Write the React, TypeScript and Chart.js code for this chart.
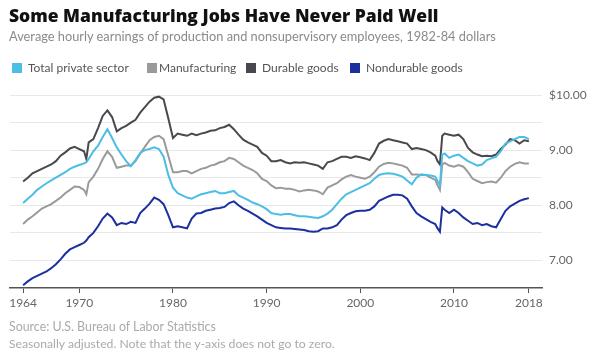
import React, { useEffect, useRef } from "react";
import { Chart, registerables } from "chart.js";

Chart.register(...registerables);

const years = [
  1964, 1964.5, 1965, 1965.5, 1966, 1966.5, 1967, 1967.5, 1968, 1968.5, 1969, 1969.5,
  1970, 1970.5, 1970.75, 1971, 1971.5, 1972, 1972.5, 1973, 1973.5, 1974, 1974.5,
  1975, 1975.5, 1976, 1976.5, 1977, 1977.5, 1978, 1978.5, 1979, 1979.5,
  1980, 1980.5, 1981, 1981.5, 1982, 1982.5, 1983, 1983.5, 1984, 1984.5,
  1985, 1985.5, 1986, 1986.5, 1987, 1987.5, 1988, 1988.5, 1989, 1989.5,
  1990, 1990.5, 1991, 1991.5, 1992, 1992.5, 1993, 1993.5, 1994, 1994.5,
  1995, 1995.5, 1996, 1996.5, 1997, 1997.5, 1998, 1998.5, 1999, 1999.5,
  2000, 2000.5, 2001, 2001.5, 2002, 2002.5, 2003, 2003.5, 2004, 2004.5,
  2005, 2005.5, 2006, 2006.5, 2007, 2007.5, 2008, 2008.25, 2008.5, 2008.75,
  2009, 2009.5, 2010, 2010.5, 2011, 2011.5, 2012, 2012.5, 2013, 2013.5,
  2014, 2014.5, 2015, 2015.5, 2016, 2016.5, 2017, 2017.5, 2018,
];

const totalPrivate = [
  8.04, 8.12, 8.19, 8.28, 8.34, 8.4, 8.45, 8.5, 8.55, 8.6, 8.66, 8.7,
  8.73, 8.76, 8.78, 8.84, 8.98, 9.08, 9.24, 9.38, 9.22, 9.05, 8.92,
  8.8, 8.71, 8.82, 8.95, 9.0, 9.02, 9.05, 9.02, 8.88, 8.55,
  8.32, 8.22, 8.18, 8.14, 8.12, 8.16, 8.2, 8.22, 8.24, 8.26,
  8.22, 8.22, 8.24, 8.26, 8.18, 8.14, 8.1, 8.05, 8.02, 7.98,
  7.93, 7.86, 7.84, 7.83, 7.84, 7.84, 7.82, 7.8, 7.8, 7.79,
  7.78, 7.77, 7.8, 7.85, 7.92, 8.02, 8.12, 8.2, 8.24, 8.28,
  8.32, 8.36, 8.4, 8.48, 8.55, 8.57, 8.58, 8.57, 8.55, 8.52,
  8.45, 8.38, 8.5, 8.56, 8.55, 8.54, 8.52, 8.44, 8.36, 8.92,
  8.94, 8.86, 8.9, 8.92, 8.86, 8.8, 8.76, 8.72, 8.74, 8.82,
  8.85, 8.88, 8.98, 9.12, 9.16, 9.2, 9.24, 9.24, 9.2,
];

const manufacturing = [
  7.66, 7.74, 7.8, 7.87, 7.94, 7.98, 8.02, 8.08, 8.14, 8.22, 8.28, 8.34,
  8.33, 8.28, 8.2, 8.42, 8.52, 8.66, 8.84, 8.98, 8.88, 8.68, 8.7,
  8.72, 8.72, 8.8, 8.94, 9.06, 9.18, 9.24, 9.26, 9.2, 8.9,
  8.6, 8.6, 8.62, 8.62, 8.58, 8.62, 8.66, 8.68, 8.72, 8.74,
  8.78, 8.8, 8.86, 8.84, 8.78, 8.72, 8.68, 8.64, 8.58, 8.48,
  8.44, 8.36, 8.31, 8.32, 8.3, 8.3, 8.28, 8.25, 8.27, 8.28,
  8.27, 8.25, 8.2, 8.32, 8.36, 8.4, 8.47, 8.52, 8.55, 8.52,
  8.5, 8.48, 8.52, 8.6, 8.7, 8.75, 8.77, 8.76, 8.74, 8.72,
  8.68, 8.56, 8.56, 8.55, 8.55, 8.5, 8.46, 8.36, 8.28, 8.74,
  8.77, 8.72, 8.7, 8.73, 8.7, 8.6, 8.48, 8.44, 8.4, 8.42,
  8.43, 8.41, 8.5, 8.62, 8.7, 8.75, 8.78, 8.76, 8.76,
];

const durableGoods = [
  8.43, 8.5, 8.58, 8.62, 8.66, 8.7, 8.74, 8.8, 8.9, 8.96, 9.03, 9.06,
  9.02, 8.98, 8.84, 9.14, 9.2, 9.4, 9.62, 9.72, 9.6, 9.34, 9.4,
  9.44, 9.5, 9.55, 9.68, 9.78, 9.88, 9.95, 9.97, 9.92, 9.58,
  9.22, 9.3, 9.28, 9.26, 9.3, 9.27, 9.3, 9.32, 9.35, 9.36,
  9.4, 9.42, 9.46, 9.38, 9.28, 9.19, 9.14, 9.1, 9.06, 8.95,
  8.9, 8.8, 8.8, 8.82, 8.78, 8.76, 8.78, 8.77, 8.78, 8.76,
  8.74, 8.72, 8.66, 8.78, 8.8, 8.84, 8.88, 8.88, 8.86, 8.89,
  8.87, 8.85, 8.82, 8.95, 9.12, 9.17, 9.2, 9.18, 9.16, 9.14,
  9.12, 9.02, 9.04, 9.02, 9.0, 8.96, 8.9, 8.8, 8.74, 9.26,
  9.3, 9.28, 9.26, 9.28, 9.2, 9.04, 8.96, 8.92, 8.89, 8.9,
  8.89, 8.92, 9.02, 9.1, 9.2, 9.18, 9.12, 9.18, 9.16,
];

const nondurableGoods = [
  6.55, 6.62, 6.68, 6.72, 6.76, 6.8, 6.86, 6.93, 7.02, 7.12, 7.2, 7.24,
  7.28, 7.32, 7.36, 7.42, 7.5, 7.62, 7.76, 7.85, 7.78, 7.64, 7.68,
  7.66, 7.7, 7.68, 7.86, 7.94, 8.03, 8.14, 8.1, 8.02, 7.82,
  7.6, 7.62, 7.6, 7.58, 7.76, 7.85, 7.86, 7.9, 7.92, 7.94,
  7.95, 7.97, 8.04, 8.07, 8.0, 7.94, 7.9, 7.85, 7.8, 7.74,
  7.68, 7.64, 7.6, 7.59, 7.58, 7.58, 7.57, 7.56, 7.55, 7.53,
  7.52, 7.53, 7.58, 7.58, 7.6, 7.64, 7.74, 7.82, 7.86, 7.89,
  7.9, 7.9, 7.92, 7.98, 8.08, 8.12, 8.16, 8.19, 8.19, 8.18,
  8.12, 7.98, 7.86, 7.8, 7.75, 7.7, 7.66, 7.58, 7.52, 7.96,
  7.92, 7.86, 7.92, 7.86, 7.78, 7.72, 7.66, 7.68, 7.64, 7.66,
  7.62, 7.6, 7.75, 7.9, 7.98, 8.03, 8.08, 8.11, 8.13,
];

const seriesNames = ["Total private sector", "Manufacturing", "Durable goods", "Nondurable goods"];
const seriesColors = ["#4cbde4", "#9a9a9a", "#48484f", "#1b2f9f"];
const xTickYears = [1964, 1970, 1980, 1990, 2000, 2010, 2018];
const yGridValues = [6.5, 7, 7.5, 8, 8.5, 9, 9.5, 10];

const titleText = "Some Manufacturing Jobs Have Never Paid Well";
const subtitleText = "Average hourly earnings of production and nonsupervisory employees, 1982-84 dollars";
const sourceText = "Source: U.S. Bureau of Labor Statistics";
const noteText = "Seasonally adjusted. Note that the y-axis does not go to zero.";

const FONT = "Lato, 'Open Sans', sans-serif";
const TITLE_FONT = "'Open Sans', Lato, sans-serif";
const legendBoxX = [12, 147, 246, 350];
const legendTextX = [28, 159, 262, 366];

export default function App() {
  const canvasRef = useRef<HTMLCanvasElement | null>(null);

  useEffect(() => {
    if (!canvasRef.current) return;
    const seriesValues = [totalPrivate, manufacturing, durableGoods, nondurableGoods];
    const chart = new Chart(canvasRef.current, {
      type: "line",
      data: {
        datasets: seriesValues.map((vals, i) => ({
          label: seriesNames[i],
          data: years.map((x, j) => ({ x, y: vals[j] })),
          borderColor: seriesColors[i],
          backgroundColor: seriesColors[i],
          borderWidth: 2,
          pointRadius: 0,
          tension: 0,
          fill: false,
        })),
      },
      options: {
        animation: false,
        responsive: false,
        maintainAspectRatio: false,
        layout: { padding: { left: 10, right: 0, top: 95, bottom: 37 } },
        plugins: { legend: { display: false }, tooltip: { enabled: false } },
        scales: {
          x: {
            type: "linear",
            min: 1962.6,
            max: 2019.4,
            afterBuildTicks: (s: any) => {
              s.ticks = xTickYears.map((v) => ({ value: v }));
            },
            afterFit: (s: any) => {
              s.height = 30;
            },
            grid: { drawOnChartArea: false, drawTicks: true, tickLength: 5, color: "#555", tickWidth: 1 },
            border: { display: true, color: "#555", width: 1.5 },
            ticks: {
              color: "#666",
              font: { family: FONT, size: 12 },
              padding: 3,
              maxRotation: 0,
              autoSkip: false,
              callback: (v: any) => String(v),
            },
          },
          y: {
            position: "right",
            min: 6.5,
            max: 10,
            afterBuildTicks: (s: any) => {
              s.ticks = yGridValues.map((v) => ({ value: v }));
            },
            afterFit: (s: any) => {
              s.width = 58;
            },
            grid: { drawTicks: false, color: (c: any) => (c.tick && c.tick.value === 6.5 ? "rgba(0,0,0,0)" : "#e8e8e8"), lineWidth: 1 },
            border: { display: false },
            ticks: {
              color: "#666",
              font: { family: FONT, size: 12 },
              padding: 7,
              crossAlign: "near",
              callback: (v: any) => {
                const n = Number(v);
                if (n === 10) return "$10.00";
                if (Number.isInteger(n)) return n.toFixed(2);
                return "";
              },
            },
          },
        },
      },
    });
    return () => chart.destroy();
  }, []);

  return (
    <div style={{ position: "absolute", left: 0, top: 0, width: 600, height: 355, background: "#fff", fontFamily: FONT, overflow: "hidden" }}>
      <canvas ref={canvasRef} width={600} height={355} style={{ position: "absolute", left: 0, top: 0, display: "block" }} />
      <div style={{ position: "absolute", left: 9, top: 4, fontFamily: TITLE_FONT, fontSize: 17.5, fontWeight: 800, color: "#111", lineHeight: "22px", whiteSpace: "nowrap" }}>{titleText}</div>
      <div style={{ position: "absolute", left: 9, top: 28, fontSize: 12.8, color: "#8a8a8a", lineHeight: "16px", whiteSpace: "nowrap" }}>{subtitleText}</div>
      {seriesNames.map((name, i) => (
        <React.Fragment key={name}>
          <span style={{ position: "absolute", left: legendBoxX[i], top: 63, width: 10, height: 10, background: seriesColors[i] }} />
          <span style={{ position: "absolute", left: legendTextX[i], top: 60, lineHeight: "16px", fontSize: 12, color: "#555", whiteSpace: "nowrap" }}>{name}</span>
        </React.Fragment>
      ))}
      <div style={{ position: "absolute", left: 9, top: 319, fontSize: 12.4, color: "#aaa", lineHeight: "16px", whiteSpace: "nowrap" }}>{sourceText}</div>
      <div style={{ position: "absolute", left: 9, top: 336, fontSize: 12.2, color: "#aaa", lineHeight: "16px", whiteSpace: "nowrap" }}>{noteText}</div>
    </div>
  );
}
